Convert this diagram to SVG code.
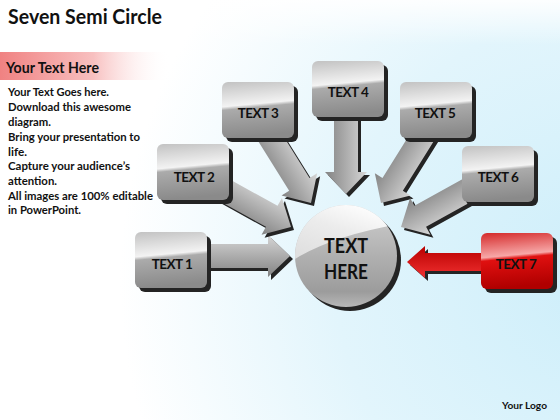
<svg xmlns="http://www.w3.org/2000/svg" width="560" height="420" viewBox="0 0 560 420">
<defs>
<radialGradient id="bg" cx="600" cy="280" r="480" gradientUnits="userSpaceOnUse">
<stop offset="0" stop-color="#cdeefa"/>
<stop offset="0.55" stop-color="#e2f5fc"/>
<stop offset="1" stop-color="#ffffff"/>
</radialGradient>
<linearGradient id="topfade" x1="0" y1="0" x2="0" y2="1">
<stop offset="0" stop-color="#ffffff" stop-opacity="0.9"/>
<stop offset="1" stop-color="#ffffff" stop-opacity="0"/>
</linearGradient>
<linearGradient id="pink" x1="0" y1="0" x2="1" y2="0">
<stop offset="0" stop-color="#f08282"/>
<stop offset="0.55" stop-color="#f8c0c0"/>
<stop offset="1" stop-color="#ffffff" stop-opacity="0"/>
</linearGradient>
<linearGradient id="boxg" x1="0" y1="0" x2="0.12" y2="1">
<stop offset="0" stop-color="#c2c2c2"/>
<stop offset="0.44" stop-color="#f3f3f3"/>
<stop offset="0.5" stop-color="#ababab"/>
<stop offset="1" stop-color="#8a8a8a"/>
</linearGradient>
<linearGradient id="redg" x1="0" y1="0" x2="0.12" y2="1">
<stop offset="0" stop-color="#d42a2a"/>
<stop offset="0.44" stop-color="#f7a8a8"/>
<stop offset="0.5" stop-color="#e01010"/>
<stop offset="1" stop-color="#b00000"/>
</linearGradient>
<linearGradient id="arrg" x1="0" y1="-20" x2="0" y2="20" gradientUnits="userSpaceOnUse">
<stop offset="0" stop-color="#d4d4d4"/>
<stop offset="1" stop-color="#858585"/>
</linearGradient>
<linearGradient id="arrr" x1="0" y1="-16" x2="0" y2="16" gradientUnits="userSpaceOnUse">
<stop offset="0" stop-color="#f03030"/>
<stop offset="1" stop-color="#b80000"/>
</linearGradient>
<linearGradient id="circg" x1="0" y1="0" x2="0" y2="1">
<stop offset="0" stop-color="#d0d0d0"/>
<stop offset="0.5" stop-color="#b0b0b0"/>
<stop offset="0.85" stop-color="#9c9c9c"/>
<stop offset="1" stop-color="#b8b8b8"/>
</linearGradient>
<linearGradient id="glossg" x1="0" y1="1" x2="0.6" y2="0">
<stop offset="0" stop-color="#dcdcdc"/>
<stop offset="0.6" stop-color="#ececec"/>
<stop offset="1" stop-color="#ffffff"/>
</linearGradient>
<clipPath id="cc"><circle cx="346" cy="256" r="51"/></clipPath>
<polygon id="ga" points="-100,-12 -22,-12 -22,-21 0,0 -22,21 -22,12 -100,12"/>
<polygon id="ra" points="-85,-9 -18,-9 -18,-16 0,0 -18,16 -18,9 -85,9"/>
</defs>
<style>
.sh{fill:#242424}
.box{fill:url(#boxg)}
.rbox{fill:url(#redg)}
.lbl{font-family:Lato,"Liberation Sans",sans-serif;font-weight:bold;font-size:13.5px;fill:#111;text-anchor:middle;letter-spacing:-0.5px}
.body{font-family:Lato,"Liberation Sans",sans-serif;font-weight:bold;font-size:11px;fill:#111}
</style>
<rect x="0" y="0" width="560" height="420" fill="url(#bg)"/>
<rect x="0" y="0" width="560" height="45" fill="url(#topfade)"/>
<text x="8" y="24" font-family="Lato,'Liberation Sans',sans-serif" font-weight="bold" font-size="20" fill="#111" textLength="154" lengthAdjust="spacingAndGlyphs">Seven Semi Circle</text>
<rect x="0" y="52" width="170" height="28" fill="url(#pink)"/>
<text x="6" y="73" font-family="Lato,'Liberation Sans',sans-serif" font-weight="bold" font-size="15" fill="#111" textLength="93" lengthAdjust="spacingAndGlyphs">Your Text Here</text>
<g id="body-text" class="body">
<text x="8" y="96" textLength="101" lengthAdjust="spacingAndGlyphs">Your Text Goes here.</text>
<text x="8" y="111" textLength="123" lengthAdjust="spacingAndGlyphs">Download this awesome</text>
<text x="8" y="126" textLength="43" lengthAdjust="spacingAndGlyphs">diagram.</text>
<text x="8" y="141" textLength="132" lengthAdjust="spacingAndGlyphs">Bring your presentation to</text>
<text x="8" y="156" textLength="19" lengthAdjust="spacingAndGlyphs">life.</text>
<text x="8" y="170" textLength="122" lengthAdjust="spacingAndGlyphs">Capture your audience’s</text>
<text x="8" y="185" textLength="49" lengthAdjust="spacingAndGlyphs">attention.</text>
<text x="8" y="200" textLength="145" lengthAdjust="spacingAndGlyphs">All images are 100% editable</text>
<text x="8" y="214" textLength="73" lengthAdjust="spacingAndGlyphs">in PowerPoint.</text>
</g>
<g id="connectors">
<use href="#ga" class="sh" transform="translate(293,259)"/>
<use href="#ga" fill="url(#arrg)" transform="translate(290,256)"/>
<use href="#ga" class="sh" transform="translate(294,230) rotate(29)"/>
<use href="#ga" fill="url(#arrg)" transform="translate(291,227) rotate(29)"/>
<use href="#ga" class="sh" transform="translate(314,206) rotate(58)"/>
<use href="#ga" fill="url(#arrg)" transform="translate(311,203) rotate(58)"/>
<use href="#ga" class="sh" transform="translate(349,197) rotate(90)"/>
<use href="#ga" fill="url(#arrg)" transform="translate(346,194) rotate(90)"/>
<use href="#ga" class="sh" transform="translate(384,206) rotate(122)"/>
<use href="#ga" fill="url(#arrg)" transform="translate(381,203) rotate(122)"/>
<use href="#ga" class="sh" transform="translate(404,230) rotate(151)"/>
<use href="#ga" fill="url(#arrg)" transform="translate(401,227) rotate(151)"/>
<use href="#ra" class="sh" transform="translate(410,265) rotate(180)"/>
<use href="#ra" fill="url(#arrr)" transform="translate(407,262) rotate(180)"/>
</g>
<g id="center">
<circle cx="350" cy="260" r="51" class="sh"/>
<circle cx="346" cy="256" r="51" fill="url(#circg)"/>
<path d="M290 262 Q330 236 400 224 L400 200 L290 200 Z" fill="url(#glossg)" clip-path="url(#cc)"/>
<text x="346" y="253" font-family="Lato,'Liberation Sans',sans-serif" font-weight="bold" font-size="20" fill="#111" text-anchor="middle" textLength="44" lengthAdjust="spacingAndGlyphs">TEXT</text>
<text x="346" y="279" font-family="Lato,'Liberation Sans',sans-serif" font-weight="bold" font-size="20" fill="#111" text-anchor="middle" textLength="44" lengthAdjust="spacingAndGlyphs">HERE</text>
</g>
<g id="node1">
<rect x="139" y="236" width="72" height="56" rx="6" class="sh"/>
<rect x="135" y="232" width="72" height="56" rx="6" class="box"/>
<text x="172" y="269" class="lbl">TEXT 1</text>
</g>
<g id="node2">
<rect x="161" y="148" width="72" height="56" rx="6" class="sh"/>
<rect x="157" y="144" width="72" height="56" rx="6" class="box"/>
<text x="194" y="182" class="lbl">TEXT 2</text>
</g>
<g id="node3">
<rect x="226" y="86" width="72" height="56" rx="6" class="sh"/>
<rect x="222" y="82" width="72" height="56" rx="6" class="box"/>
<text x="258" y="118" class="lbl">TEXT 3</text>
</g>
<g id="node4">
<rect x="316" y="65" width="72" height="56" rx="6" class="sh"/>
<rect x="312" y="61" width="72" height="56" rx="6" class="box"/>
<text x="348" y="97" class="lbl">TEXT 4</text>
</g>
<g id="node5">
<rect x="404" y="86" width="72" height="56" rx="6" class="sh"/>
<rect x="400" y="82" width="72" height="56" rx="6" class="box"/>
<text x="435" y="118" class="lbl">TEXT 5</text>
</g>
<g id="node6">
<rect x="466" y="150" width="72" height="56" rx="6" class="sh"/>
<rect x="462" y="146" width="72" height="56" rx="6" class="box"/>
<text x="498" y="182" class="lbl">TEXT 6</text>
</g>
<g id="node7">
<rect x="485" y="237" width="72" height="56" rx="6" class="sh"/>
<rect x="481" y="233" width="72" height="56" rx="6" class="rbox"/>
<text x="516" y="269" class="lbl">TEXT 7</text>
</g>
<text x="502" y="409" font-family="Lato,'Liberation Sans',sans-serif" font-weight="bold" font-size="9.5" fill="#111" textLength="45" lengthAdjust="spacingAndGlyphs">Your Logo</text>
</svg>
